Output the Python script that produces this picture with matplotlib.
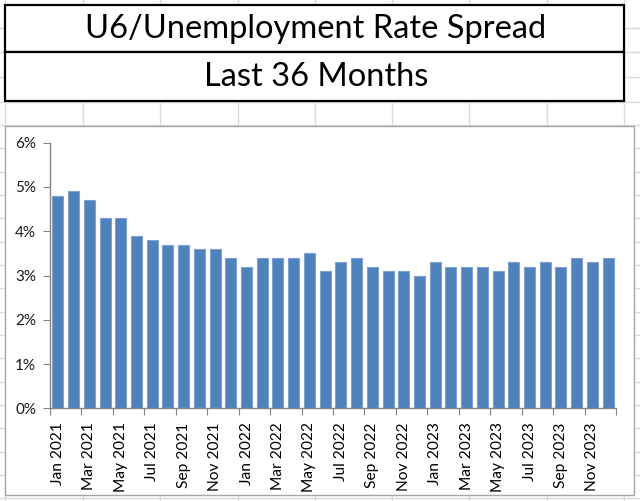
import numpy as np
import matplotlib
matplotlib.use("Agg")
import matplotlib.pyplot as plt
from matplotlib.patches import Rectangle

plt.rcParams["font.family"] = ["Lato", "DejaVu Sans"]

# U6 minus headline unemployment rate, in percent
meses = ["Jan", "Feb", "Mar", "Apr", "May", "Jun",
         "Jul", "Aug", "Sep", "Oct", "Nov", "Dec"]
anios = [2021, 2022, 2023]
etiquetas = [f"{m} {a}" for a in anios for m in meses]
spread = [4.8, 4.9, 4.7, 4.3, 4.3, 3.9, 3.8, 3.7, 3.7, 3.6, 3.6, 3.4,
          3.2, 3.4, 3.4, 3.4, 3.5, 3.1, 3.3, 3.4, 3.2, 3.1, 3.1, 3.0,
          3.3, 3.2, 3.2, 3.2, 3.1, 3.3, 3.2, 3.3, 3.2, 3.4, 3.3, 3.4]
titulo = "U6/Unemployment Rate Spread"
subtitulo = "Last 36 Months"

W, H = 640, 501
fig = plt.figure(figsize=(W / 100, H / 100), dpi=100)

# fondo tipo hoja de calculo (coordenadas en pixeles)
fondo = fig.add_axes([0, 0, 1, 1], zorder=0)
fondo.set_xlim(0, W)
fondo.set_ylim(H, 0)
fondo.axis("off")
gris_celda = "#DADADA"
for x in [5, 82.5, 160, 237.5, 315, 392, 469, 546.5, 624]:
    fondo.axvline(x, color=gris_celda, lw=1)
for y in [28.3, 52, 77] + list(np.arange(101.7, H, 23.33)):
    fondo.axhline(y, color=gris_celda, lw=1)

# cajas del titulo
for y0, y1, txt in [(4.5, 52, titulo), (52, 100.7, subtitulo)]:
    fondo.add_patch(Rectangle((5, y0), 619, y1 - y0, facecolor="white",
                              edgecolor="black", lw=1.6, zorder=3))
    fondo.text(316, (y0 + y1) / 2 + 1, txt, ha="center", va="center",
               fontsize=23.5, color="black", zorder=4)

# area del grafico
fondo.add_patch(Rectangle((5, 125.7), 629, 369.6, facecolor="white",
                          edgecolor="#A6A6A6", lw=1.0, zorder=3))

ax = fig.add_axes([50 / W, (H - 408.3) / H, 566 / W, 265.6 / H], zorder=2)
ax.patch.set_alpha(0)
x = np.arange(len(spread))
ax.bar(x, spread, width=0.7, color="#4F81BD", edgecolor="#7DA2CE", linewidth=0.8)

ax.set_xlim(-0.5, len(spread) - 0.5)
ax.set_ylim(0, 6)
ax.set_yticks(range(0, 7))
ax.set_yticklabels([f"{v}%" for v in range(0, 7)])

ax.set_xticks(np.arange(-0.5, len(spread), 2))
ax.set_xticklabels([])
ax.set_xticks(x[::2], minor=True)
ax.set_xticklabels(etiquetas[::2], minor=True, rotation=90)
ax.tick_params(axis="x", which="minor", length=0, pad=10, labelsize=11.2)
ax.tick_params(axis="x", which="major", length=5, color="#868686")
ax.tick_params(axis="y", length=5, color="#868686", pad=5, labelsize=11)
ax.tick_params(labelcolor="#1A1A1A")

for lado in ["top", "right"]:
    ax.spines[lado].set_visible(False)
for lado in ["left", "bottom"]:
    ax.spines[lado].set_color("#868686")
    ax.spines[lado].set_linewidth(1.0)

fig.savefig("out.png", dpi=100)
